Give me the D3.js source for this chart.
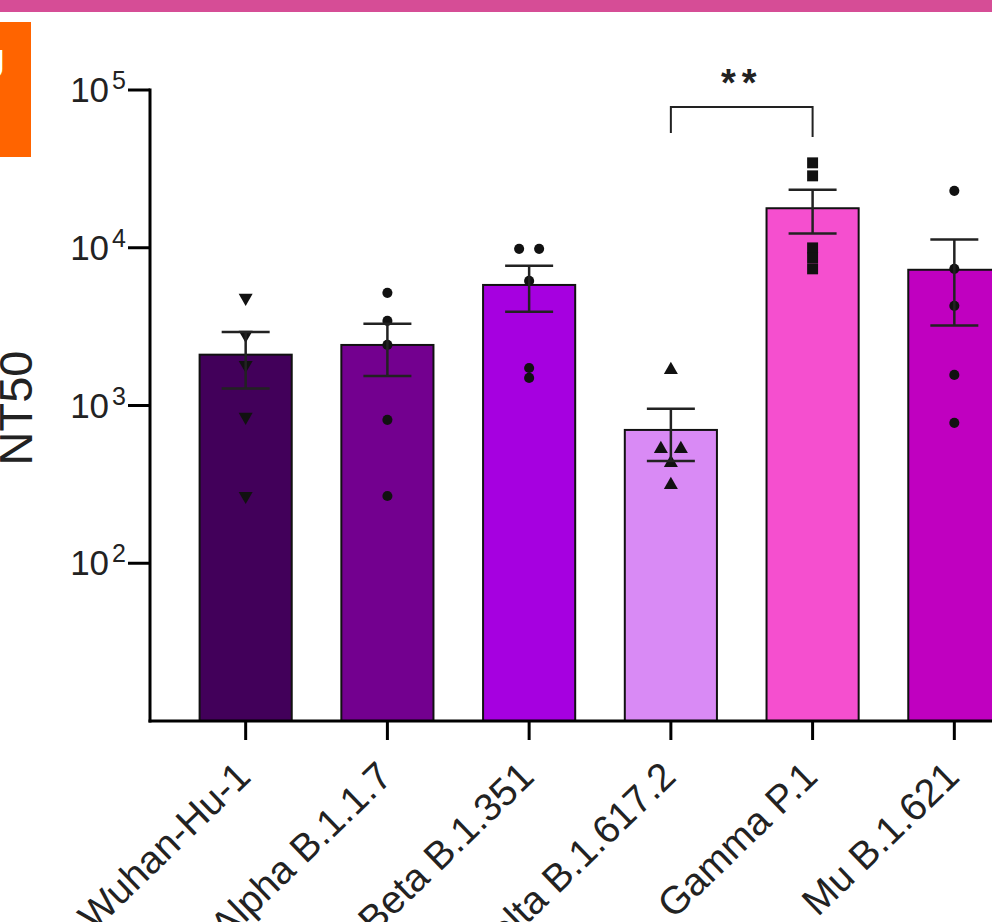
<!DOCTYPE html>
<html>
<head>
<meta charset="utf-8">
<script src="https://cdn.jsdelivr.net/npm/d3@7/dist/d3.min.js"></script>
<style>
  html, body { margin: 0; padding: 0; background: #fff; }
  svg { display: block; }
  text { font-family: "Liberation Sans", Arial, sans-serif; }
</style>
</head>
<body>
<svg id="chart" width="992" height="922"></svg>
<script>
// ---- data ----
const categories = ["Wuhan-Hu-1", "Alpha B.1.1.7", "Beta B.1.351", "Delta B.1.617.2", "Gamma P.1", "Mu B.1.621"];
const means = [2100, 2420, 5810, 700, 17800, 7250];
const sems = [820, 880, 1880, 255, 5500, 4030];
const wuhanPoints = [4810, 2805, 1808, 847, 267];
const alphaPoints = [5176, 3438, 2422, 811, 267];
const betaPoints = [9840, 9840, 6166, 1730, 1496];
const deltaPoints = [1683, 531, 531, 433, 314];
const gammaPoints = [34530, 28560, 9980, 8630, 7350];
const muPoints = [22950, 7350, 4285, 1563, 776];
const pointSets = [wuhanPoints, alphaPoints, betaPoints, deltaPoints, gammaPoints, muPoints];
const markerShapes = ["triangleDown", "circle", "circle", "triangleUp", "square", "circle"];
const barColors = ["#42005a", "#73008f", "#a600e0", "#d98af5", "#f54fcf", "#c000c0"];
const yTickExponents = [2, 3, 4, 5];
const yLabel = "NT50";
const significance = { from: "Delta B.1.617.2", to: "Gamma P.1", label: "**" };

// ---- layout ----
const svg = d3.select("#chart");
const W = 992, H = 922;
const axisX = 150, axisY = 721, topY = 90;

// decorative frame pieces
svg.append("rect").attr("x", 0).attr("y", 0).attr("width", W).attr("height", 12).attr("fill", "#d64d96");
svg.append("rect").attr("x", 0).attr("y", 22).attr("width", 31).attr("height", 135).attr("fill", "#ff6400");
svg.append("text").attr("x", 5).attr("y", 78).attr("text-anchor", "end")
  .attr("font-size", 40).attr("font-weight", "bold").attr("fill", "#fff").text("J");

const x = d3.scaleBand().domain(categories).range([axisX, 1050]).paddingInner(0.35).paddingOuter(0.35);
const y = d3.scaleLog().domain([10, 1e5]).range([axisY, topY]);

// bars
const g = svg.append("g");
g.selectAll("rect.bar").data(categories).join("rect")
  .attr("class", "bar")
  .attr("x", d => x(d))
  .attr("width", x.bandwidth())
  .attr("y", (d, i) => y(means[i]))
  .attr("height", (d, i) => axisY - y(means[i]))
  .attr("fill", (d, i) => barColors[i])
  .attr("stroke", "#111").attr("stroke-width", 2);

// points
const symbolFor = s => {
  if (s === "circle") return d3.symbol(d3.symbolCircle, 80)();
  if (s === "square") return d3.symbol(d3.symbolSquare, 120)();
  return d3.symbol(d3.symbolTriangle, 85)();
};
categories.forEach((c, i) => {
  const cx = x(c) + x.bandwidth() / 2;
  const pts = pointSets[i];
  pts.forEach((v, j) => {
    // spread horizontally when identical values overlap
    const dupIdx = pts.map((w, k) => k).filter(k => Math.abs(Math.log10(pts[k]) - Math.log10(v)) < 0.01);
    let dx = 0;
    if (dupIdx.length > 1) {
      const pos = dupIdx.indexOf(j);
      dx = (pos - (dupIdx.length - 1) / 2) * 20;
    }
    const rot = markerShapes[i] === "triangleDown" ? 180 : 0;
    g.append("path")
      .attr("d", symbolFor(markerShapes[i]))
      .attr("transform", `translate(${cx + dx},${y(v)}) rotate(${rot})`)
      .attr("fill", "#111");
  });
});

// error bars
categories.forEach((c, i) => {
  const cx = x(c) + x.bandwidth() / 2;
  const hi = y(means[i] + sems[i]), lo = y(means[i] - sems[i]);
  const eg = g.append("g").attr("stroke", "#222").attr("stroke-width", 2.5);
  eg.append("line").attr("x1", cx).attr("x2", cx).attr("y1", hi).attr("y2", lo);
  eg.append("line").attr("x1", cx - 24).attr("x2", cx + 24).attr("y1", hi).attr("y2", hi);
  eg.append("line").attr("x1", cx - 24).attr("x2", cx + 24).attr("y1", lo).attr("y2", lo);
});

// axes lines
svg.append("line").attr("x1", axisX).attr("x2", axisX).attr("y1", topY - 1.5).attr("y2", axisY + 1.5)
  .attr("stroke", "#000").attr("stroke-width", 3);
svg.append("line").attr("x1", axisX - 1.5).attr("x2", W).attr("y1", axisY).attr("y2", axisY)
  .attr("stroke", "#000").attr("stroke-width", 3);

// y ticks
yTickExponents.forEach(e => {
  const yy = y(Math.pow(10, e));
  svg.append("line").attr("x1", axisX - 22).attr("x2", axisX).attr("y1", yy).attr("y2", yy)
    .attr("stroke", "#000").attr("stroke-width", 3);
  const t = svg.append("text").attr("x", 126).attr("y", yy + 12).attr("text-anchor", "end").attr("fill", "#222");
  t.append("tspan").attr("font-size", 35).text("10");
  t.append("tspan").attr("font-size", 25).attr("dx", 3).attr("dy", -13).text(String(e));
});

// y label
svg.append("text").attr("transform", `translate(32,408) rotate(-90)`)
  .attr("text-anchor", "middle").attr("font-size", 47).attr("fill", "#222").text(yLabel);

// x ticks and labels
categories.forEach(c => {
  const cx = x(c) + x.bandwidth() / 2;
  svg.append("line").attr("x1", cx).attr("x2", cx).attr("y1", axisY).attr("y2", axisY + 19)
    .attr("stroke", "#000").attr("stroke-width", 3);
  svg.append("text").attr("transform", `translate(${cx + 7},779) rotate(-44)`)
    .attr("text-anchor", "end").attr("font-size", 39).attr("fill", "#222").text(c);
});

// significance bracket
const x1 = x(significance.from) + x.bandwidth() / 2, x2 = x(significance.to) + x.bandwidth() / 2;
svg.append("path").attr("d", `M${x1},133 V107 H${x2} V137`)
  .attr("fill", "none").attr("stroke", "#222").attr("stroke-width", 2);
svg.append("text").attr("x", (x1 + x2) / 2).attr("y", 96).attr("text-anchor", "middle")
  .attr("font-size", 38).attr("font-weight", "bold").attr("letter-spacing", 6).attr("fill", "#222")
  .text(significance.label);
</script>
</body>
</html>
